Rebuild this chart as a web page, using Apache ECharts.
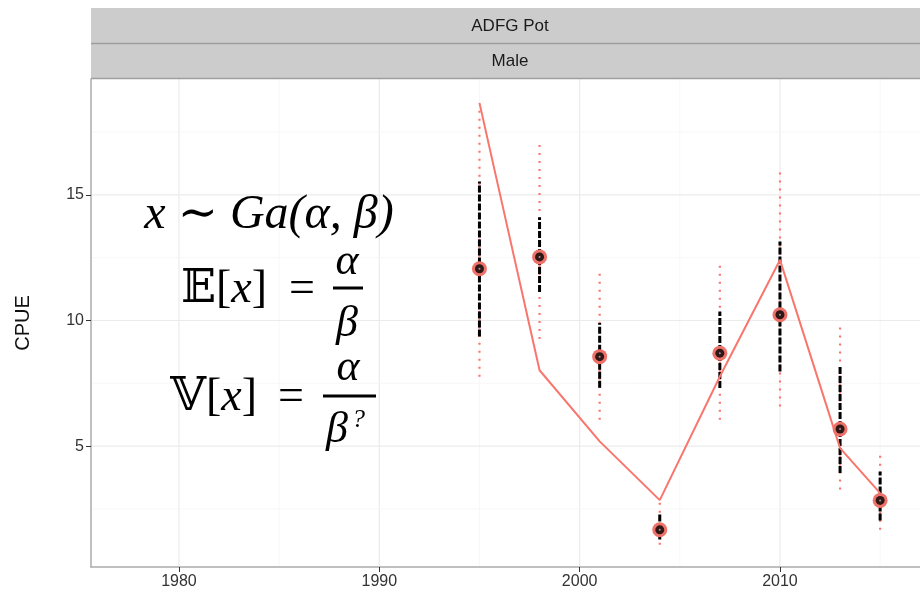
<!DOCTYPE html>
<html>
<head>
<meta charset="utf-8">
<script src="https://cdn.jsdelivr.net/npm/echarts@6/dist/echarts.min.js"></script>
<style>html,body{margin:0;padding:0;background:#fff}#c{width:920px;height:594px}</style>
</head>
<body>
<div id="c"></div>
<script>
// ---- data ----
const years      = [1995, 1998, 2001, 2004, 2007, 2010, 2013, 2015];
const observed   = [12.06, 12.53, 8.56, 1.67, 8.70, 10.23, 5.68, 2.84];
const innerLo    = [9.36, 11.13, 7.32, 1.28, 7.31, 7.97, 3.93, 2.04];
const innerHi    = [15.53, 14.11, 9.90, 2.35, 10.36, 13.14, 8.20, 3.99];
const outerLo    = [7.76, 9.26, 6.05, 1.08, 6.05, 6.58, 3.27, 1.67];
const outerHi    = [18.46, 17.06, 11.95, 2.75, 12.28, 15.93, 9.90, 4.86];
const predicted  = [18.66, 8.02, 5.19, 2.85, 7.77, 12.41, 4.92, 3.13];
const xTicks     = [1980, 1990, 2000, 2010];
const xMinor     = [1985, 1995, 2005, 2015];
const yTicks     = [5, 10, 15];
const yMinor     = [2.5, 7.5, 12.5, 17.5];
const stripTop   = 'ADFG Pot';
const stripSub   = 'Male';
const yName      = 'CPUE';

const X_MIN = 1975.61, X_MAX = 2016.99, Y_MIN = 0.19, Y_MAX = 19.61;
const RED = '#F8766D';
const chart = echarts.init(document.getElementById('c'));

const pts = (arr) => years.map((y, i) => [y, arr[i]]);
const bars = (lo, hi) => years.map((y, i) => [y, lo[i], hi[i]]);

function barRenderer(color, width, dash) {
  return function (params, api) {
    const p1 = api.coord([api.value(0), api.value(1)]);
    const p2 = api.coord([api.value(0), api.value(2)]);
    return {type: 'line', shape: {x1: p1[0], y1: p1[1], x2: p2[0], y2: p2[1]},
            style: {stroke: color, lineWidth: width, lineDash: dash}};
  };
}

// grid lines: [orientation (0 = vertical, 1 = horizontal), value, major(1)/minor(0)]
const gridData = []
  .concat(xTicks.map(v => [0, v, 1])).concat(xMinor.map(v => [0, v, 0]))
  .concat(yTicks.map(v => [1, v, 1])).concat(yMinor.map(v => [1, v, 0]));

function gridRenderer(params, api) {
  const o = api.value(0), v = api.value(1), major = api.value(2);
  let p1, p2;
  if (o === 0) { p1 = api.coord([v, Y_MIN]); p2 = api.coord([v, Y_MAX]); }
  else { p1 = api.coord([X_MIN, v]); p2 = api.coord([X_MAX, v]); }
  return {type: 'line', shape: {x1: p1[0], y1: p1[1], x2: p2[0], y2: p2[1]},
          style: {stroke: major ? '#EBEBEB' : '#F5F5F5', lineWidth: major ? 1.2 : 0.8}};
}

const mathFont = '"Liberation Serif", "DejaVu Serif", "DejaVu Sans", serif';
const M = (size, italic) => (italic ? 'italic ' : '') + size + 'px ' + mathFont;

chart.setOption({
  animation: false,
  backgroundColor: '#fff',
  grid: {left: 91, top: 79, width: 829, height: 488},
  xAxis: {
    type: 'value', min: X_MIN, max: X_MAX,
    axisLine: {show: true, onZero: false, lineStyle: {color: '#ABABAB', width: 1.5}},
    axisTick: {show: true, customValues: xTicks, length: 5, lineStyle: {color: '#333', width: 1}},
    axisLabel: {customValues: xTicks, formatter: v => String(v), color: '#333', fontSize: 16,
                fontFamily: 'Liberation Sans, Arial', margin: 7},
    splitLine: {show: false}
  },
  yAxis: {
    type: 'value', min: Y_MIN, max: Y_MAX,
    name: yName, nameLocation: 'middle', nameRotate: 90, nameGap: 58,
    nameTextStyle: {color: '#111', fontSize: 20, fontFamily: 'Liberation Sans, Arial'},
    axisLine: {show: true, onZero: false, lineStyle: {color: '#ABABAB', width: 1.5}},
    axisTick: {show: true, customValues: yTicks, length: 5, lineStyle: {color: '#333', width: 1}},
    axisLabel: {customValues: yTicks, formatter: v => String(v), color: '#333', fontSize: 16,
                fontFamily: 'Liberation Sans, Arial', margin: 7},
    splitLine: {show: false}
  },
  series: [
    {type: 'custom', data: gridData, renderItem: gridRenderer, silent: true, z: 0},
    {type: 'custom', data: bars(outerLo, outerHi), renderItem: barRenderer(RED, 2.2, [2, 6]), z: 2},
    {type: 'custom', data: bars(innerLo, innerHi), renderItem: barRenderer('#000', 3, [7, 2]), z: 3},
    {type: 'line', data: pts(predicted), symbol: 'none', lineStyle: {color: RED, width: 2}, z: 4},
    {type: 'scatter', data: pts(observed), symbolSize: 15, itemStyle: {color: '#EE7269', opacity: 1}, z: 5},
    {type: 'scatter', data: pts(observed), symbolSize: 9, itemStyle: {color: '#000'}, z: 6},
    {type: 'scatter', data: pts(observed), symbolSize: 2, itemStyle: {color: '#bbb'}, z: 7}
  ],
  graphic: [
    {type: 'rect', shape: {x: 91, y: 8, width: 840, height: 35}, style: {fill: '#CCCCCC'}, z: 10},
    {type: 'rect', shape: {x: 91, y: 44, width: 840, height: 34}, style: {fill: '#CCCCCC'}, z: 10},
    {type: 'line', shape: {x1: 91, y1: 43.5, x2: 931, y2: 43.5}, style: {stroke: '#9E9E9E', lineWidth: 1.5}, z: 11},
    {type: 'line', shape: {x1: 91, y1: 78.5, x2: 931, y2: 78.5}, style: {stroke: '#9E9E9E', lineWidth: 1.5}, z: 11},
    {type: 'text', style: {x: 510, y: 26, text: stripTop, textAlign: 'center', textVerticalAlign: 'middle',
      font: '17px "Liberation Sans", Arial', fill: '#1A1A1A'}, z: 12},
    {type: 'text', style: {x: 510, y: 61, text: stripSub, textAlign: 'center', textVerticalAlign: 'middle',
      font: '17px "Liberation Sans", Arial', fill: '#1A1A1A'}, z: 12},
    // formula overlay
    {type: 'text', style: {x: 269, y: 215, text: 'x ∼ Ga(α, β)', textAlign: 'center', textVerticalAlign: 'middle',
      font: M(48, true), fill: '#000'}, z: 20},
    {type: 'text', style: {x: 267, y: 290, text: '{u|𝔼[}{i|x}{u|]}', textAlign: 'right', textVerticalAlign: 'middle',
      rich: {u: {font: M(46), fill: '#000'}, i: {font: M(46, true), fill: '#000'}}}, z: 20},
    {type: 'text', style: {x: 302, y: 290, text: '=', textAlign: 'center', textVerticalAlign: 'middle',
      font: M(46), fill: '#000'}, z: 20},
    {type: 'text', style: {x: 347, y: 262, text: 'α', textAlign: 'center', textVerticalAlign: 'middle',
      font: M(44, true), fill: '#000'}, z: 20},
    {type: 'line', shape: {x1: 333, y1: 288, x2: 363, y2: 288}, style: {stroke: '#000', lineWidth: 3}, z: 20},
    {type: 'text', style: {x: 347, y: 324, text: 'β', textAlign: 'center', textVerticalAlign: 'middle',
      font: M(44, true), fill: '#000'}, z: 20},
    {type: 'text', style: {x: 257, y: 398, text: '{u|𝕍[}{i|x}{u|]}', textAlign: 'right', textVerticalAlign: 'middle',
      rich: {u: {font: M(46), fill: '#000'}, i: {font: M(46, true), fill: '#000'}}}, z: 20},
    {type: 'text', style: {x: 291, y: 398, text: '=', textAlign: 'center', textVerticalAlign: 'middle',
      font: M(46), fill: '#000'}, z: 20},
    {type: 'text', style: {x: 348, y: 368, text: 'α', textAlign: 'center', textVerticalAlign: 'middle',
      font: M(44, true), fill: '#000'}, z: 20},
    {type: 'line', shape: {x1: 323, y1: 396, x2: 376, y2: 396}, style: {stroke: '#000', lineWidth: 3}, z: 20},
    {type: 'text', style: {x: 337, y: 430, text: 'β', textAlign: 'center', textVerticalAlign: 'middle',
      font: M(44, true), fill: '#000'}, z: 20},
    {type: 'text', style: {x: 352, y: 420, text: '?', textAlign: 'left', textVerticalAlign: 'middle',
      font: M(26, true), fill: '#000'}, z: 20}
  ]
});
</script>
</body>
</html>
